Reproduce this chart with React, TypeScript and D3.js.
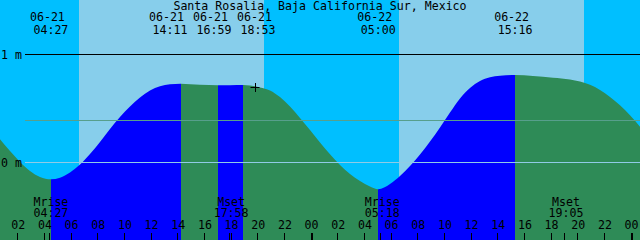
import React from "react";
import * as d3 from "d3";

const W = 640;
const H = 240;

const title = "Santa Rosalia, Baja California Sur, Mexico";

// Hours counted from 06-21 00:00
const startHour = 0.633;
const spanHours = 48;

// Tide curve samples (hours, metres)
const tideHours = [
  0.633, 1.383, 2.133, 2.883, 3.633, 4.45, 5.133, 5.883, 6.633, 7.383, 8.133, 8.883, 9.633,
  10.383, 11.133, 11.883, 12.633, 13.383, 14.183, 15.633, 16.983, 17.883, 18.883, 19.383,
  20.133, 20.883, 21.633, 22.383, 23.133, 23.883, 24.633, 25.383, 26.133, 26.883, 27.633,
  28.383, 29.0, 29.883, 30.633, 31.383, 32.133, 32.883, 33.633, 34.383, 35.133, 35.883,
  36.633, 37.383, 38.133, 39.267, 40.608, 42.108, 43.383, 44.133, 44.883, 45.633, 46.383,
  47.133, 47.883, 48.633,
];
const tideHeights = [
  0.215, 0.106, 0.005, -0.079, -0.134, -0.156, -0.142, -0.093, -0.019, 0.079, 0.19, 0.31,
  0.421, 0.519, 0.602, 0.667, 0.706, 0.724, 0.73, 0.72, 0.715, 0.716, 0.718, 0.712, 0.694,
  0.667, 0.606, 0.519, 0.412, 0.301, 0.185, 0.076, -0.023, -0.106, -0.171, -0.222, -0.248,
  -0.199, -0.125, -0.032, 0.074, 0.194, 0.324, 0.463, 0.593, 0.69, 0.755, 0.789, 0.804,
  0.81, 0.801, 0.785, 0.769, 0.75, 0.719, 0.671, 0.606, 0.53, 0.437, 0.331,
];

// Tide events
const eventHours = [4.45, 14.183, 16.983, 18.883, 29.0, 39.267];
const eventDates = ["06-21", "06-21", "06-21", "06-21", "06-22", "06-22"];
const eventTimes = ["04:27", "14:11", "16:59", "18:53", "05:00", "15:16"];
const eventTypes = ["low", "high", "low", "high", "low", "high"];

// Sun
const sunriseHours = [6.57, 30.57];
const sunsetHours = [20.43, 44.43];

// Moon
const moonHours = [4.45, 17.967, 29.3, 43.083];
const moonNames = ["Mrise", "Mset", "Mrise", "Mset"];
const moonTimes = ["04:27", "17:58", "05:18", "19:05"];

// Levels
const levelValues = [1, 0];
const levelLabels = ["1 m", "0 m"];
const meanLevel = 0.389;

// Current-time mark
const markHour = 19.78;
const markHeight = 0.703;

const COLORS = {
  night: "#00BFFF",
  day: "#87CEEB",
  flood: "#0000FF",
  ebb: "#2E8B57",
  mean: "#579f8c",
  zero: "#90cbe6",
  text: "#000000",
};

const FONT = "'DejaVu Sans Mono', 'Liberation Mono', monospace";
const FS = 11.6;

function spread(xs: number[], minGap: number): number[] {
  const pos = xs.slice();
  for (let iter = 0; iter < 500; iter++) {
    let moved = false;
    for (let i = 0; i < pos.length - 1; i++) {
      const d = pos[i + 1] - pos[i];
      if (d < minGap - 0.01) {
        const s = (minGap - d) / 2;
        pos[i] -= s;
        pos[i + 1] += s;
        moved = true;
      }
    }
    if (!moved) break;
  }
  return pos;
}

export default function App() {
  const x = d3.scaleLinear().domain([startHour, startHour + spanHours]).range([0, W]);
  const y = d3.scaleLinear().domain([0, 1]).range([162.5, 54.5]);

  const pts: [number, number][] = tideHours.map((h, i) => [h, tideHeights[i]]);
  const area = d3
    .area<[number, number]>()
    .x((d) => x(d[0]))
    .y0(H)
    .y1((d) => y(d[1]))
    .curve(d3.curveMonotoneX);
  const areaPath = area(pts) || "";

  const sunEdges: { h0: number; h1: number; day: boolean }[] = [];
  let cur = startHour;
  for (let i = 0; i < sunriseHours.length; i++) {
    sunEdges.push({ h0: cur, h1: sunriseHours[i], day: false });
    sunEdges.push({ h0: sunriseHours[i], h1: sunsetHours[i], day: true });
    cur = sunsetHours[i];
  }
  sunEdges.push({ h0: cur, h1: startHour + spanHours, day: false });

  const bounds = [startHour, ...eventHours, startHour + spanHours];
  const tideSegs = bounds.slice(0, -1).map((b, i) => {
    let rising: boolean;
    if (i < eventTypes.length) rising = eventTypes[i] === "high";
    else rising = eventTypes[eventTypes.length - 1] === "low";
    return { h0: b, h1: bounds[i + 1], rising };
  });

  const hourTicks: number[] = [];
  for (let h = Math.ceil(startHour / 2) * 2; h <= startHour + spanHours; h += 2) hourTicks.push(h);

  const labelX = spread(eventHours.map((h) => x(h)), 44);

  const mx = x(markHour);
  const my = y(markHeight);

  return (
    <svg
      width={W}
      height={H}
      style={{ position: "absolute", left: 0, top: 0, display: "block" }}
      fontFamily={FONT}
      fontSize={FS}
    >
      <defs>
        <clipPath id="tideClip">
          <path d={areaPath} />
        </clipPath>
      </defs>
      {sunEdges.map((s, i) => (
        <rect
          key={"s" + i}
          x={x(s.h0)}
          y={0}
          width={x(s.h1) - x(s.h0)}
          height={H}
          fill={s.day ? COLORS.day : COLORS.night}
          shapeRendering="crispEdges"
        />
      ))}
      <g clipPath="url(#tideClip)">
        {tideSegs.map((s, i) => (
          <rect
            key={"t" + i}
            x={x(s.h0)}
            y={0}
            width={x(s.h1) - x(s.h0)}
            height={H}
            fill={s.rising ? COLORS.flood : COLORS.ebb}
            shapeRendering="crispEdges"
          />
        ))}
      </g>
      <line x1={25} x2={W} y1={y(meanLevel)} y2={y(meanLevel)} stroke={COLORS.mean} strokeWidth={1} shapeRendering="crispEdges" />
      <line x1={25} x2={W} y1={y(0)} y2={y(0)} stroke={COLORS.zero} strokeWidth={1} shapeRendering="crispEdges" />
      <line x1={25} x2={W} y1={y(1)} y2={y(1)} stroke="#000" strokeWidth={1} shapeRendering="crispEdges" />
      {levelValues.map((v, i) => (
        <text key={"l" + i} x={1} y={y(v) + 4} fill={COLORS.text}>
          {levelLabels[i]}
        </text>
      ))}
      <text x={W / 2} y={9.5} textAnchor="middle" fill={COLORS.text}>
        {title}
      </text>
      {eventHours.map((h, i) => (
        <g key={"e" + i}>
          <text x={labelX[i] - 3.5} y={21} textAnchor="middle" fill={COLORS.text}>
            {eventDates[i]}
          </text>
          <text x={labelX[i]} y={33.5} textAnchor="middle" fill={COLORS.text}>
            {eventTimes[i]}
          </text>
        </g>
      ))}
      {moonHours.map((h, i) => (
        <g key={"m" + i}>
          <text x={x(h)} y={205.5} textAnchor="middle" fill={COLORS.text}>
            {moonNames[i]}
          </text>
          <text x={x(h)} y={217.3} textAnchor="middle" fill={COLORS.text}>
            {moonTimes[i]}
          </text>
          <line x1={Math.round(x(h)) - 1.5} x2={Math.round(x(h)) - 1.5} y1={233} y2={H} stroke="#000" strokeWidth={1} />
        </g>
      ))}
      {hourTicks.map((h) => {
        const hh = h % 24;
        const xx = x(h);
        const midnight = hh === 0;
        return (
          <g key={"h" + h}>
            <text x={xx} y={229.3} textAnchor="middle" fill={COLORS.text}>
              {d3.format("02d")(hh)}
            </text>
            <line
              x1={midnight ? Math.round(xx) : Math.round(xx) - 0.5}
              x2={midnight ? Math.round(xx) : Math.round(xx) - 0.5}
              y1={233}
              y2={H}
              stroke="#000"
              strokeWidth={midnight ? 2 : 1}
            />
          </g>
        );
      })}
      <line x1={Math.round(mx) - 4.5} x2={Math.round(mx) + 4.5} y1={Math.round(my) + 0.5} y2={Math.round(my) + 0.5} stroke="#000" strokeWidth={1} />
      <line x1={Math.round(mx) + 0.5} x2={Math.round(mx) + 0.5} y1={Math.round(my) - 4} y2={Math.round(my) + 5} stroke="#000" strokeWidth={1} />
    </svg>
  );
}
